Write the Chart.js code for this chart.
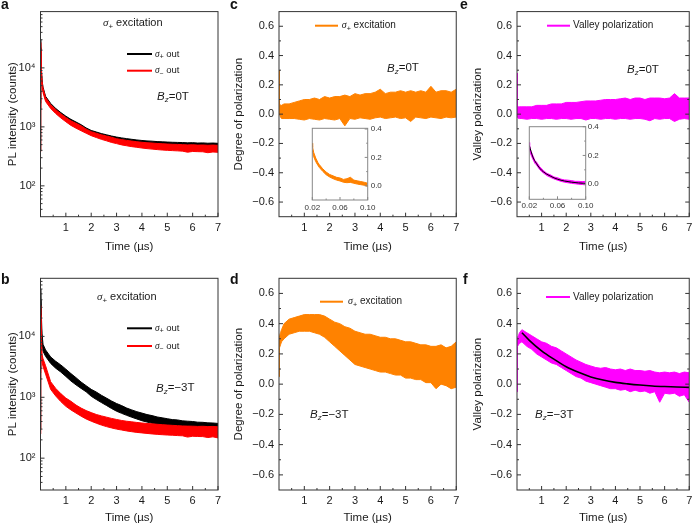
<!DOCTYPE html>
<html><head><meta charset="utf-8">
<script src="https://cdn.jsdelivr.net/npm/chart.js@4.4.1/dist/chart.umd.min.js"></script>
<style>
body{margin:0;background:#fff;width:697px;height:525px;position:relative;overflow:hidden}
canvas{position:absolute}
.lt{position:absolute;font:bold 14px 'Liberation Sans',Arial,sans-serif;line-height:14px;color:#111}
</style>
</head><body>
<canvas id="pa" width="234" height="262" style="left:0;top:0"></canvas>
<canvas id="pb" width="234" height="263" style="left:0;top:262px"></canvas>
<canvas id="pc" width="236" height="262" style="left:228px;top:0"></canvas>
<canvas id="pd" width="236" height="263" style="left:228px;top:262px"></canvas>
<canvas id="pe" width="231" height="262" style="left:466px;top:0"></canvas>
<canvas id="pf" width="231" height="263" style="left:466px;top:262px"></canvas>
<canvas id="ic" width="100" height="97" style="left:300px;top:118px"></canvas>
<canvas id="ie" width="100" height="97" style="left:516px;top:116px"></canvas>
<div class="lt" style="left:1px;top:-3px">a</div>
<div class="lt" style="left:1px;top:272px">b</div>
<div class="lt" style="left:230px;top:-3px">c</div>
<div class="lt" style="left:230px;top:272px">d</div>
<div class="lt" style="left:460px;top:-3px">e</div>
<div class="lt" style="left:463px;top:272px">f</div>
<script>
// ---------- data ----------
const T_MAIN = [0,0.01,0.03,0.06,0.1,0.2,0.4,0.6,0.8,1.0,1.2,1.4,1.6,1.8,2.0,2.2,2.4,2.6,2.8,3.0,3.2,3.4,3.6,3.8,4.0,4.2,4.4,4.6,4.8,5.0,5.2,5.4,5.6,5.8,6.0,6.2,6.4,6.6,6.8,7.0];

// panel a: PL intensity, Bz = 0T (band = upper / lower edge of noisy trace)
const A_PLUS_HI  = [2500,30000,11000,6200,4700,3300,2500,2050,1750,1520, 1340,1210,1090,960,870,820,770,735,700,672, 650,632,615,600,588,578,572,563,558,553, 548,545,542,536,540,532,535,528,532,526];
const A_PLUS_LO  = [400,22000,9000,5300,4100,2900,2200,1800,1540,1330, 1170,1060,960,860,780,730,690,655,625,600, 580,565,550,538,528,520,514,508,503,498, 494,491,488,484,486,480,482,476,479,474];
const A_MINUS_HI = [2000,27000,10500,6000,4500,3150,2380,1960,1670,1440, 1265,1150,1040,915,830,780,735,700,668,630, 608,590,575,560,548,538,532,523,518,512, 507,504,500,495,498,491,494,488,492,486];
const A_MINUS_LO = [380,20000,8500,5000,3800,2700,2050,1680,1420,1220, 1060,950,860,780,710,660,615,580,545,520, 495,478,462,450,438,428,420,412,405,400, 396,392,388,372,383,380,378,365,375,370];

// panel b: PL intensity, Bz = -3T
const B_PLUS_HI  = [3000,60000,25000,11000,7400,6000,4600,3900,3400,2900, 2450,2100,1780,1550,1350,1220,1080,970,870,790, 730,665,620,580,550,520,500,475,460,445, 430,425,410,405,400,390,388,380,378,372];
const B_PLUS_LO  = [300,40000,17000,8500,5700,4700,3600,3000,2600,2200, 1850,1600,1400,1230,1040,920,820,735,655,590, 545,505,470,440,412,392,373,358,344,333, 324,316,309,303,297,292,288,284,281,277];
const B_MINUS_HI = [2500,32000,12000,5000,4300,3300,1800,1400,1150,970, 860,745,665,605,560,522,495,472,450,432, 416,404,395,386,378,371,366,360,355,350, 346,342,338,336,335,332,334,330,332,328];
const B_MINUS_LO = [250,22000,8500,3800,3200,2400,1350,1050,850,710, 620,550,490,440,405,375,350,330,314,300, 290,280,272,265,260,255,250,246,243,240, 238,235,233,222,229,227,226,218,224,215];

// panel c: degree of polarization, Bz = 0T
const C_DOP_HI = [0.30,0.20,0.07,0.06,0.06,0.07,0.07,0.08,0.09,0.10, 0.10,0.11,0.10,0.12,0.11,0.12,0.12,0.13,0.12,0.14, 0.13,0.14,0.14,0.15,0.17,0.14,0.15,0.15,0.16,0.15, 0.16,0.15,0.16,0.15,0.19,0.15,0.16,0.16,0.15,0.17];
const C_DOP_LO = [0.05,0.04,0.00,-0.02,-0.03,-0.03,-0.03,-0.03,-0.035,-0.04, -0.03,-0.035,-0.04,-0.03,-0.035,-0.04,-0.03,-0.08,-0.03,-0.035, -0.025,-0.03,-0.035,-0.025,-0.02,-0.03,-0.025,-0.02,-0.03,-0.025, -0.05,-0.02,-0.025,-0.03,-0.02,-0.025,-0.03,-0.02,-0.025,-0.02];

// panel d: degree of polarization, Bz = -3T
const D_DOP_HI = [0.30,0.30,0.32,0.34,0.36,0.40,0.43,0.44,0.45,0.46, 0.46,0.46,0.46,0.45,0.43,0.41,0.40,0.38,0.37,0.35, 0.34,0.33,0.33,0.32,0.31,0.31,0.30,0.30,0.29,0.28, 0.28,0.27,0.26,0.26,0.25,0.25,0.26,0.24,0.25,0.28];
const D_DOP_LO = [0.05,0.22,0.24,0.26,0.28,0.30,0.33,0.34,0.35,0.35, 0.35,0.34,0.33,0.31,0.28,0.25,0.22,0.19,0.16,0.13, 0.12,0.11,0.10,0.09,0.08,0.08,0.07,0.06,0.06,0.04, 0.04,0.03,0.03,0.01,0.01,-0.03,0.00,-0.01,-0.03,-0.02];

// panel e: valley polarization, Bz = 0T
const E_VP_HI = [0.28,0.15,0.05,0.05,0.05,0.05,0.05,0.05,0.06,0.06, 0.06,0.07,0.07,0.07,0.08,0.08,0.08,0.085,0.09,0.09, 0.09,0.095,0.10,0.10,0.10,0.105,0.11,0.10,0.11,0.11, 0.10,0.11,0.11,0.11,0.105,0.11,0.14,0.11,0.11,0.11];
const E_VP_LO = [0.00,0.00,-0.02,-0.03,-0.03,-0.03,-0.035,-0.03,-0.03,-0.035, -0.03,-0.03,-0.035,-0.03,-0.03,-0.035,-0.03,-0.03,-0.04,-0.03, -0.03,-0.035,-0.03,-0.03,-0.035,-0.03,-0.03,-0.035,-0.03,-0.03, -0.035,-0.045,-0.03,-0.035,-0.03,-0.03,-0.05,-0.035,-0.03,-0.035];

// panel f: valley polarization, Bz = -3T, with fit
const F_VP_HI = [0.30,0.30,0.31,0.32,0.34,0.36,0.34,0.32,0.30,0.28, 0.27,0.25,0.24,0.22,0.20,0.18,0.16,0.145,0.13,0.12, 0.11,0.105,0.11,0.10,0.095,0.10,0.09,0.10,0.09,0.09, 0.085,0.09,0.08,0.075,0.08,0.075,0.08,0.07,0.08,0.075];
const F_VP_LO = [-0.05,0.24,0.25,0.26,0.27,0.28,0.25,0.23,0.20,0.18, 0.16,0.14,0.13,0.11,0.09,0.07,0.05,0.04,0.02,0.01, 0.00,-0.01,-0.02,-0.03,-0.03,-0.04,-0.035,-0.05,-0.04,-0.05, -0.045,-0.06,-0.05,-0.12,-0.06,-0.065,-0.06,-0.08,-0.07,-0.12];
const F_FIT_T = [0.2,0.5,1,1.5,2,2.5,3,3.5,4,4.5,5,5.5,6,6.5,7];
const F_FIT   = [0.34,0.29,0.22,0.165,0.115,0.078,0.048,0.027,0.012,0.002,-0.006,-0.012,-0.016,-0.019,-0.021];

// insets (0.02 - 0.10 µs)
const T_INSET = [0.020,0.0205,0.022,0.025,0.028,0.030,0.035,0.040,0.045,0.050,0.055,0.060,0.065,0.070,0.075,0.080,0.085,0.090,0.095,0.100];
const CI_HI = [0.30,0.27,0.235,0.195,0.165,0.15,0.12,0.097,0.08,0.07,0.06,0.055,0.045,0.05,0.06,0.04,0.035,0.03,0.025,0.018];
const CI_LO = [0.25,0.235,0.205,0.17,0.145,0.13,0.102,0.078,0.062,0.05,0.04,0.034,0.025,0.022,0.024,0.018,0.012,0.008,0.004,-0.005];
const EI_HI = [0.29,0.27,0.235,0.2,0.165,0.155,0.12,0.095,0.075,0.065,0.05,0.045,0.035,0.03,0.028,0.025,0.02,0.02,0.018,0.02];
const EI_LO = [0.25,0.24,0.21,0.175,0.145,0.135,0.1,0.078,0.06,0.048,0.037,0.028,0.02,0.014,0.01,0.006,0.003,0.0,-0.002,-0.005];
const EI_FIT_T = [0.02,0.025,0.03,0.035,0.04,0.05,0.06,0.07,0.08,0.09,0.10];
const EI_FIT   = [0.27,0.19,0.145,0.11,0.086,0.056,0.035,0.022,0.014,0.009,0.005];

// ticks
const X_TICKS = [1,2,3,4,5,6,7];
const Y_LOG_TICKS = [100,1000,10000];
const Y_LOG_LABELS = ['10\u00B2','10\u00B3','10\u2074'];
const Y_POL_TICKS = [-0.6,-0.4,-0.2,0,0.2,0.4,0.6];
const INSET_X_TICKS = [0.02,0.06,0.10];
const INSET_Y_TICKS = [0,0.2,0.4];

// ---------- styling ----------
const F = "'Liberation Sans', Arial, sans-serif";
const BLACK = '#000000', RED = '#ff0000', ORANGE = '#ff8200', MAGENTA = '#ff00ff';
const TXT = '#1a1a1a';

function drawRich(ctx, x, y, segs) {
  let cx = x;
  segs.forEach(s => {
    ctx.font = s.f; ctx.fillStyle = s.c || TXT;
    ctx.textBaseline = 'middle'; ctx.textAlign = 'left';
    ctx.fillText(s.t, cx, y + (s.dy || 0));
    cx += ctx.measureText(s.t).width;
  });
}
const sigma = (sign, size) => [
  {t:'\u03C3', f:`italic ${size}px 'Liberation Serif', serif`},
  {t:sign, f:`${(size*0.72).toFixed(1)}px ${F}`, dy:size*0.33}
];
const sigExc = size => sigma('+', size).concat([{t:' excitation', f:`${size}px ${F}`}]);
const sigOut = sign => sigma(sign, 9.5).concat([{t:' out', f:`9.5px ${F}`}]);
const bz = val => [{t:'B', f:`italic 11.5px ${F}`},{t:'z', f:`italic 8px ${F}`, dy:3},{t:'='+val, f:`11.5px ${F}`}];
const mids = arr => arr.slice(0,-1).map((v,i)=>(v+arr[i+1])/2);
function logMinor(min, max, majors) {
  const out = [];
  [10,100,1000,10000].forEach(d => { for (let m=2;m<=9;m++){ const v=m*d; if (v>min && v<max && !majors.includes(v)) out.push(v);} });
  return out;
}

const deco = {
  id: 'deco',
  afterDatasetsDraw(chart, args, o) {
    const ctx = chart.ctx, a = chart.chartArea, xs = chart.scales.x, ys = chart.scales.y;
    ctx.save();
    ctx.strokeStyle = o.frame; ctx.lineWidth = 1;
    const seg = (x1,y1,x2,y2) => { ctx.beginPath(); ctx.moveTo(x1,y1); ctx.lineTo(x2,y2); ctx.stroke(); };
    const L = o.len || 4, l = o.minLen || 2;
    o.xMajor.forEach(v => { const p = xs.getPixelForValue(v); seg(p,a.bottom,p,a.bottom-L); });
    o.xMinor.forEach(v => { const p = xs.getPixelForValue(v); seg(p,a.bottom,p,a.bottom-l); });
    const yT = (list,len) => list.forEach(v => { const p = ys.getPixelForValue(v);
      if (o.left) seg(a.left,p,a.left+len,p); if (o.right) seg(a.right,p,a.right-len,p); });
    yT(o.yMajor, L); yT(o.yMinor, l);
    ctx.strokeRect(a.left, a.top, a.right-a.left, a.bottom-a.top);
    (o.lines||[]).forEach(k => { ctx.strokeStyle = k.c; ctx.lineWidth = k.w; seg(k.x1,k.y,k.x2,k.y); });
    (o.texts||[]).forEach(t => drawRich(ctx, t.x, t.y, t.s));
    ctx.restore();
  }
};

function band(xs, hi, lo, color, order) {
  return [
    {data: xs.map((x,i)=>({x, y:hi[i]})), borderColor:color, borderWidth:1, fill:false, order},
    {data: xs.map((x,i)=>({x, y:lo[i]})), borderColor:color, borderWidth:1, backgroundColor:color, fill:'-1', order}
  ];
}
function fitLine(xs, ys, w) {
  return {data: xs.map((x,i)=>({x, y:ys[i]})), borderColor:'#000', borderWidth:w, fill:false, order:-1, cubicInterpolationMode:'monotone'};
}
const polFmt = v => Math.abs(v) < 1e-9 ? '0.0' : (v < 0 ? '\u2212' + Math.abs(v).toFixed(1) : v.toFixed(1));

function makeChart(id, o) {
  return new Chart(document.getElementById(id), {
    type: 'line',
    data: {datasets: o.datasets},
    options: {
      responsive:false, animation:false, devicePixelRatio:1,
      layout:{padding:o.pad},
      elements:{point:{radius:0}, line:{tension:0}},
      plugins:{legend:{display:false}, tooltip:{enabled:false}, deco:o.deco},
      scales:{
        x:{type:'linear', position:'bottom', min:o.xMin, max:o.xMax,
          afterBuildTicks: s => { s.ticks = o.xTicks.map(v=>({value:v})); },
          afterFit: s => { s.height = o.xH; },
          grid:{display:false, drawTicks:false}, border:{display:false},
          ticks:{autoSkip:false, maxRotation:0, padding:o.xPad, color:o.tickColor||TXT, font:{family:F, size:o.tickSize}, callback:o.xFmt},
          title:{display:!!o.xTitle, text:o.xTitle||'', color:TXT, font:{family:F, size:11.5}, padding:{top:0, bottom:o.xTitlePb||0}}
        },
        y:{type:o.yType, position:o.yPos||'left', min:o.yMin, max:o.yMax,
          afterBuildTicks: s => { s.ticks = o.yTicks.map(v=>({value:v})); },
          afterFit: s => { s.width = o.yW; },
          grid:{display:false, drawTicks:false}, border:{display:false},
          ticks:{autoSkip:false, padding:o.yPad, color:o.tickColor||TXT, font:{family:F, size:o.tickSize}, callback:o.yFmt},
          title:{display:!!o.yTitle, text:o.yTitle||'', color:TXT, font:{family:F, size:11.5}, padding:{top:o.yTitlePt||0, bottom:0}}
        }
      }
    },
    plugins:[deco]
  });
}

const xMinorMain = mids([0].concat(X_TICKS));
const logFmt = v => { const i = Y_LOG_TICKS.indexOf(Math.round(v)); return i >= 0 ? Y_LOG_LABELS[i] : ''; };
const common = {xMin:0, xMax:7, xTicks:X_TICKS, xTitle:'Time (\u00B5s)', xPad:4.7, yPad:5, tickSize:11};
const logY = {yType:'logarithmic', yMin:30, yMax:90000, yTicks:Y_LOG_TICKS, yFmt:logFmt, yTitle:'PL intensity (counts)', yW:40.5, yTitlePt:5.6};
const polY = {yType:'linear', yMin:-0.7, yMax:0.7, yTicks:Y_POL_TICKS, yFmt:polFmt, yW:51};
const topRow = {xH:45.3, xTitlePb:8.4};
const botRow = {xH:35, xTitlePb:0};
const logDeco = {frame:'#333', left:true, xMajor:X_TICKS, xMinor:xMinorMain, yMajor:Y_LOG_TICKS, yMinor:logMinor(30,90000,Y_LOG_TICKS)};
const polDeco = {frame:'#333', left:true, xMajor:X_TICKS, xMinor:xMinorMain, yMajor:Y_POL_TICKS, yMinor:mids(Y_POL_TICKS)};

// a
makeChart('pa', Object.assign({}, common, logY, topRow, {
  pad:{left:0, top:5.3, right:16, bottom:0},
  datasets: band(T_MAIN, A_PLUS_HI, A_PLUS_LO, BLACK, 1).concat(band(T_MAIN, A_MINUS_HI, A_MINUS_LO, RED, 0)),
  deco: Object.assign({}, logDeco, {
    lines:[{x1:127,x2:152,y:54,c:BLACK,w:2},{x1:127,x2:152,y:70.7,c:RED,w:2}],
    texts:[{x:103,y:23.3,s:sigExc(11)},{x:155,y:54,s:sigOut('+')},{x:155,y:70.7,s:sigOut('\u2212')},{x:157,y:97,s:bz('0T')}]
  })
}));
// b
makeChart('pb', Object.assign({}, common, logY, botRow, {
  pad:{left:0, top:16.3, right:16, bottom:0},
  datasets: band(T_MAIN, B_PLUS_HI, B_PLUS_LO, BLACK, 1).concat(band(T_MAIN, B_MINUS_HI, B_MINUS_LO, RED, 0)),
  deco: Object.assign({}, logDeco, {
    lines:[{x1:127,x2:152,y:66.3,c:BLACK,w:2},{x1:127,x2:152,y:84,c:RED,w:2}],
    texts:[{x:97,y:34.7,s:sigExc(11)},{x:155,y:66.3,s:sigOut('+')},{x:155,y:84,s:sigOut('\u2212')},{x:156,y:126.3,s:bz('\u22123T')}]
  })
}));
// c
makeChart('pc', Object.assign({}, common, polY, topRow, {
  yTitle:'Degree of polarization', yTitlePt:4.1,
  pad:{left:0, top:5.3, right:7.3, bottom:0},
  datasets: band(T_MAIN, C_DOP_HI, C_DOP_LO, ORANGE, 0),
  deco: Object.assign({}, polDeco, {
    lines:[{x1:87,x2:110,y:25.7,c:ORANGE,w:2}],
    texts:[{x:113.7,y:25.7,s:sigExc(10)},{x:159,y:68.3,s:bz('0T')}]
  })
}));
// d
makeChart('pd', Object.assign({}, common, polY, botRow, {
  yTitle:'Degree of polarization', yTitlePt:4.1,
  pad:{left:0, top:16.3, right:7.3, bottom:0},
  datasets: band(T_MAIN, D_DOP_HI, D_DOP_LO, ORANGE, 0),
  deco: Object.assign({}, polDeco, {
    lines:[{x1:92,x2:115,y:39.7,c:ORANGE,w:2}],
    texts:[{x:120,y:39.7,s:sigExc(10)},{x:82,y:153,s:bz('\u22123T')}]
  })
}));
// e
makeChart('pe', Object.assign({}, common, polY, topRow, {
  yTitle:'Valley polarization', yTitlePt:5.4,
  pad:{left:0, top:5.3, right:4, bottom:0},
  datasets: band(T_MAIN, E_VP_HI, E_VP_LO, MAGENTA, 0),
  deco: Object.assign({}, polDeco, {right:true,
    lines:[{x1:81,x2:104,y:25.7,c:MAGENTA,w:2}],
    texts:[{x:107,y:25.7,s:[{t:'Valley polarization', f:`10px ${F}`}]},{x:161,y:70,s:bz('0T')}]
  })
}));
// f
makeChart('pf', Object.assign({}, common, polY, botRow, {
  yTitle:'Valley polarization', yTitlePt:5.4,
  pad:{left:0, top:16.3, right:4, bottom:0},
  datasets: band(T_MAIN, F_VP_HI, F_VP_LO, MAGENTA, 0).concat([fitLine(F_FIT_T, F_FIT, 1.6)]),
  deco: Object.assign({}, polDeco, {right:true,
    lines:[{x1:80,x2:104,y:35,c:MAGENTA,w:2}],
    texts:[{x:107,y:35,s:[{t:'Valley polarization', f:`10px ${F}`}]},{x:69,y:153,s:bz('\u22123T')}]
  })
}));
// insets
const insetCommon = {xMin:0.02, xMax:0.10, xTicks:INSET_X_TICKS, xFmt:v=>v.toFixed(2), yType:'linear', yPos:'right',
  yTicks:INSET_Y_TICKS, yFmt:v=>v.toFixed(1), yW:28, tickSize:8, tickColor:'#333'};
const insetDeco = {frame:'#888', right:true, len:3, minLen:1.5, xMajor:INSET_X_TICKS, xMinor:mids(INSET_X_TICKS), yMajor:INSET_Y_TICKS, yMinor:mids(INSET_Y_TICKS)};
makeChart('ic', Object.assign({}, insetCommon, {
  yMin:-0.1, yMax:0.405, xH:15, xPad:2.5, yPad:3,
  pad:{left:12.3, top:10.3, right:4.3, bottom:0},
  datasets: band(T_INSET, CI_HI, CI_LO, ORANGE, 0),
  deco: insetDeco
}));
makeChart('ie', Object.assign({}, insetCommon, {
  yMin:-0.105, yMax:0.4, xH:13.7, xPad:1.9, yPad:2,
  pad:{left:13.3, top:10.7, right:2.3, bottom:0},
  datasets: band(T_INSET, EI_HI, EI_LO, MAGENTA, 0).concat([fitLine(EI_FIT_T, EI_FIT, 1)]),
  deco: insetDeco
}));
</script>
</body></html>
